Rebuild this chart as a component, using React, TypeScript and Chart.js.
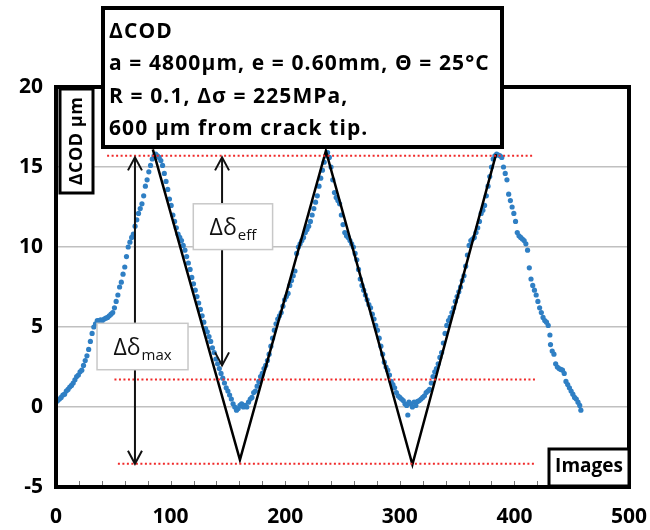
import React, { useEffect, useRef } from "react";
import { Chart, registerables } from "chart.js";

Chart.register(...registerables);

// ---- data ----
const imageIdx = [
  0, 1.5, 3, 4.5, 6, 7.5, 9, 10.5, 12, 13.5, 15, 16.5, 18, 19.5, 21, 22.5, 24, 25.5, 27, 28.5,
  30, 31.5, 33, 34.5, 36, 37.5, 39, 40.5, 42, 43.5, 45, 46.5, 48, 49.5, 51, 52.5, 54, 55.5, 57, 58.5,
  60, 61.5, 63, 64.5, 66, 67.5, 69, 70.5, 72, 73.5, 75, 76.5, 78, 79.5, 81, 82.5, 84, 85.5, 87, 88.5,
  90, 91.5, 93, 94.5, 96, 97.5, 99, 100.5, 102, 103.5, 105, 106.5, 108, 109.5, 111, 112.5, 114, 115.5, 117, 118.5,
  120, 121.5, 123, 124.5, 126, 127.5, 129, 130.5, 132, 133.5, 135, 136.5, 138, 139.5, 141, 142.5, 144, 145.5, 147, 148.5,
  150, 151.5, 153, 154.5, 156, 157.5, 159, 160.5, 162, 163.5, 165, 166.5, 168, 169.5, 171, 172.5, 174, 175.5, 177, 178.5,
  180, 181.5, 183, 184.5, 186, 187.5, 189, 190.5, 192, 193.5, 195, 196.5, 198, 199.5, 201, 202.5, 204, 205.5, 207, 208.5,
  210, 211.5, 213, 214.5, 216, 217.5, 219, 220.5, 222, 223.5, 225, 226.5, 228, 229.5, 231, 232.5, 234, 235.5, 237, 238.5,
  240, 241.5, 243, 244.5, 246, 247.5, 249, 250.5, 252, 253.5, 255, 256.5, 258, 259.5, 261, 262.5, 264, 265.5, 267, 268.5,
  270, 271.5, 273, 274.5, 276, 277.5, 279, 280.5, 282, 283.5, 285, 286.5, 288, 289.5, 291, 292.5, 294, 295.5, 297, 298.5,
  300, 301.5, 303, 304.5, 306, 307, 308, 309.5, 311, 312.5, 314, 315.5, 317, 318.5, 320, 321.5, 323, 324.5, 326, 327.5,
  329, 330.5, 332, 333.5, 335, 336.5, 338, 339.5, 341, 342.5, 344, 345.5, 347, 348.5, 350, 351.5, 353, 354.5, 356, 357.5,
  359, 360.5, 362, 363.5, 365, 366.5, 368, 369.5, 371, 372.5, 374, 375.5, 377, 378.5, 380, 381.5, 383, 384.5, 386, 387.5,
  389, 390.5, 392, 393.5, 395, 396.5, 398, 399.5, 401, 402.5, 404, 405.5, 407, 408.5, 410, 411.5, 413, 414.5, 416, 417.5,
  419, 420.5, 422, 423.5, 425, 426.5, 428, 429.5, 431, 431.5, 433, 434.5, 436, 437.5, 439, 440.5, 442, 443.5, 445, 446.5,
  448, 449.5, 451, 452.5, 454, 455.5, 457, 458,
];
const codUm = [
  0.3, 0.4, 0.5, 0.6, 0.75, 0.8, 1.0, 1.1, 1.25, 1.35, 1.5, 1.7, 1.9, 2.0, 2.2, 2.3, 2.6, 2.9, 3.2, 3.6,
  4.1, 4.6, 5.0, 5.2, 5.4, 5.4, 5.45, 5.4, 5.5, 5.55, 5.6, 5.7, 5.8, 5.9, 6.2, 6.6, 7.0, 7.5, 7.8, 8.3,
  8.75, 9.4, 10.0, 10.3, 10.6, 10.8, 11.3, 11.7, 12.1, 12.4, 12.7, 13.2, 13.8, 14.2, 14.7, 15.1, 15.5, 15.7, 15.8, 15.7,
  15.6, 15.4, 15.1, 14.6, 14.1, 13.6, 13.0, 12.6, 12.0, 11.6, 11.2, 10.8, 10.6, 10.4, 10.1, 9.8, 9.4, 9.0, 8.6, 8.1,
  7.7, 7.3, 6.9, 6.5, 6.1, 5.7, 5.3, 4.9, 4.7, 4.4, 4.1, 3.7, 3.4, 3.0, 2.7, 2.4, 2.1, 1.8, 1.5, 1.2,
  1.0, 0.75, 0.5, 0.2, 0.0, -0.2, -0.1, 0.1, 0.2, 0.0, 0.1, 0.0, 0.3, 0.5, 0.6, 0.9, 1.0, 1.3, 1.6, 1.9,
  2.1, 2.4, 2.6, 2.9, 3.3, 3.8, 4.3, 4.8, 5.2, 5.5, 5.7, 5.9, 6.3, 6.7, 6.9, 7.1, 7.6, 7.9, 8.2, 8.5,
  9.6, 10.0, 10.2, 10.4, 10.6, 10.9, 11.1, 11.3, 11.6, 12.0, 12.4, 12.8, 13.2, 13.8, 14.3, 14.8, 15.3, 15.7, 15.9, 15.6,
  15.0, 14.2, 13.4, 13.1, 12.9, 12.7, 12.0, 11.4, 10.9, 10.7, 10.6, 10.4, 10.2, 10.0, 9.6, 9.2, 8.6, 8.0, 7.6, 7.3,
  7.0, 6.7, 6.4, 6.2, 5.8, 5.5, 5.1, 4.8, 4.3, 3.8, 3.3, 2.8, 2.5, 2.3, 2.0, 1.6, 1.4, 1.2, 0.9, 0.7,
  0.6, 0.5, 0.4, 0.2, 0.1, -0.5, 0.3, 0.2, 0.0, 0.3, 0.1, 0.35, 0.4, 0.5, 0.6, 0.7, 0.9, 1.0, 1.1, 1.5,
  1.9, 2.2, 2.4, 2.7, 3.1, 3.4, 4.0, 4.6, 5.1, 5.4, 5.6, 5.9, 6.2, 6.6, 6.9, 7.2, 7.5, 7.9, 8.2, 8.8,
  9.5, 10.1, 10.4, 10.5, 10.6, 10.9, 11.2, 11.6, 12.1, 12.3, 12.6, 13.2, 13.8, 14.4, 15.0, 15.5, 15.7, 15.8, 15.75, 15.7,
  15.6, 15.0, 14.6, 14.2, 13.3, 12.9, 12.5, 12.1, 11.6, 10.9, 10.7, 10.6, 10.5, 10.4, 10.2, 9.8, 8.7, 8.0, 7.6, 7.3,
  7.0, 6.6, 6.2, 5.9, 5.6, 5.4, 5.3, 5.1, 4.5, 3.9, 3.5, 3.3, 2.7, 2.5, 2.4, 2.35, 2.3, 2.1, 1.6, 1.4,
  1.2, 1.0, 0.8, 0.6, 0.5, 0.3, 0.1, -0.2,
];

// triangular fit (black line)
const fitImages = [84.5, 160.5, 235.5, 311, 384];
const fitCod = [16.1, -3.3, 16.0, -3.6, 15.8];

// red dotted reference levels
const maxLevelImages = [44.6, 416];
const maxLevelCod = [15.7, 15.7];
const openLevelImages = [51, 420];
const openLevelCod = [1.72, 1.72];
const minLevelImages = [54, 419];
const minLevelCod = [-3.55, -3.55];

// double arrows: [image, top COD, bottom COD]
const arrowMax = [68.9, 15.6, -3.55];
const arrowEff = [144.9, 15.6, 2.6];
// label boxes: [image left, image right, COD top, COD bottom]
const boxMax = [35.8, 115.2, 5.23, 2.33];
const boxEff = [119.8, 189, 12.7, 9.84];

const xTickValues = [0, 100, 200, 300, 400, 500];
const yTickValues = [-5, 0, 5, 10, 15, 20];

const infoLines = [
  "ΔCOD",
  "a = 4800µm, e = 0.60mm, Θ = 25°C",
  "R = 0.1, Δσ = 225MPa,",
  "600 µm from crack tip.",
];
const yTitle = "ΔCOD µm";
const xTitle = "Images";

const FONT = "'Open Sans', Lato, sans-serif";
const BLUE = "#2f7fc4";
const RED = "#f02a2a";

function pts(xs: number[], ys: number[]) {
  return xs.map((x, i) => ({ x, y: ys[i] }));
}

const overlayPlugin = {
  id: "overlay",
  afterDatasetsDraw(chart: any) {
    const ctx: any = chart.ctx;
    const xs = chart.scales.x;
    const ys = chart.scales.y;
    const area = chart.chartArea;
    ctx.save();

    // arrows
    const drawHead = (x: number, y: number, dir: number) => {
      ctx.beginPath();
      ctx.moveTo(x - 7, y + dir * 13);
      ctx.lineTo(x, y);
      ctx.lineTo(x + 7, y + dir * 13);
      ctx.stroke();
    };
    ctx.strokeStyle = "#111";
    ctx.lineWidth = 2;
    for (const a of [arrowMax, arrowEff]) {
      const px = xs.getPixelForValue(a[0]);
      const t = ys.getPixelForValue(a[1]);
      const b = ys.getPixelForValue(a[2]);
      ctx.beginPath();
      ctx.moveTo(px, t);
      ctx.lineTo(px, b);
      ctx.stroke();
      drawHead(px, t, 1);
      drawHead(px, b, -1);
    }

    // label boxes
    const labelBox = (bx: number[], sub: string) => {
      const l = xs.getPixelForValue(bx[0]);
      const r = xs.getPixelForValue(bx[1]);
      const t = ys.getPixelForValue(bx[2]);
      const b = ys.getPixelForValue(bx[3]);
      ctx.fillStyle = "#fff";
      ctx.fillRect(l, t, r - l, b - t);
      ctx.strokeStyle = "#c8c8c8";
      ctx.lineWidth = 1.5;
      ctx.strokeRect(l, t, r - l, b - t);
      ctx.fillStyle = "#111";
      ctx.font = `23px ${FONT}`;
      const main = "Δδ";
      const wMain = ctx.measureText(main).width;
      ctx.font = `15px ${FONT}`;
      const wSub = ctx.measureText(sub).width;
      const startX = (l + r) / 2 - (wMain + 1 + wSub) / 2;
      const base = (t + b) / 2 + 8;
      ctx.textBaseline = "alphabetic";
      ctx.textAlign = "left";
      ctx.font = `23px ${FONT}`;
      ctx.fillText(main, startX, base);
      ctx.font = `15px ${FONT}`;
      ctx.fillText(sub, startX + wMain + 1, base + 5);
    };
    labelBox(boxMax, "max");
    labelBox(boxEff, "eff");

    // minor ticks along the bottom
    ctx.strokeStyle = "#777";
    ctx.lineWidth = 1;
    for (let v = 20; v < 500; v += 20) {
      const px = Math.round(xs.getPixelForValue(v)) + 0.5;
      ctx.beginPath();
      ctx.moveTo(px, area.bottom);
      ctx.lineTo(px, area.bottom - 6);
      ctx.stroke();
    }

    // plot border
    ctx.strokeStyle = "#000";
    ctx.lineWidth = 4;
    ctx.strokeRect(area.left, area.top, area.right - area.left, area.bottom - area.top);

    // info box
    ctx.fillStyle = "#fff";
    ctx.fillRect(103, 8, 399, 139);
    ctx.lineWidth = 4;
    ctx.strokeRect(103, 8, 399, 139);
    ctx.fillStyle = "#000";
    ctx.font = `bold 21px ${FONT}`;
    ctx.letterSpacing = "1.1px";
    ctx.textAlign = "left";
    ctx.textBaseline = "alphabetic";
    const baselines = [38, 70, 103, 135];
    infoLines.forEach((s, i) => ctx.fillText(s, 109, baselines[i]));
    ctx.letterSpacing = "0px";

    // y title box
    ctx.fillStyle = "#fff";
    ctx.fillRect(60, 89, 33, 104);
    ctx.lineWidth = 3;
    ctx.strokeRect(60, 89, 33, 104);
    ctx.save();
    ctx.translate(77, 141);
    ctx.rotate(-Math.PI / 2);
    ctx.fillStyle = "#000";
    ctx.font = `bold 18px ${FONT}`;
    ctx.letterSpacing = "0.5px";
    ctx.textAlign = "center";
    ctx.textBaseline = "middle";
    ctx.fillText(yTitle, 0, 0);
    ctx.restore();
    ctx.letterSpacing = "0px";

    // x title box
    ctx.fillStyle = "#fff";
    ctx.fillRect(549, 449, 80, 37);
    ctx.lineWidth = 3;
    ctx.strokeRect(549, 449, 80, 37);
    ctx.fillStyle = "#000";
    ctx.font = `bold 19px ${FONT}`;
    ctx.textAlign = "center";
    ctx.textBaseline = "middle";
    ctx.fillText(xTitle, 589, 467);

    ctx.restore();
  },
};

export default function App() {
  const ref = useRef<HTMLCanvasElement | null>(null);
  useEffect(() => {
    if (!ref.current) return;
    const chart = new Chart(ref.current, {
      type: "scatter",
      data: {
        datasets: [
          {
            label: "ΔCOD",
            data: pts(imageIdx, codUm),
            pointRadius: 2.6,
            pointBackgroundColor: BLUE,
            pointBorderWidth: 0,
            order: 3,
          },
          {
            label: "fit",
            data: pts(fitImages, fitCod),
            showLine: true,
            borderColor: "#000",
            borderWidth: 2.5,
            pointRadius: 0,
            order: 2,
          },
          {
            label: "max",
            data: pts(maxLevelImages, maxLevelCod),
            showLine: true,
            borderColor: RED,
            borderWidth: 2,
            borderDash: [2, 2.5],
            pointRadius: 0,
            order: 1,
            clip: false,
          },
          {
            label: "open",
            data: pts(openLevelImages, openLevelCod),
            showLine: true,
            borderColor: RED,
            borderWidth: 2,
            borderDash: [2, 2.5],
            pointRadius: 0,
            order: 1,
          },
          {
            label: "min",
            data: pts(minLevelImages, minLevelCod),
            showLine: true,
            borderColor: RED,
            borderWidth: 2,
            borderDash: [2, 2.5],
            pointRadius: 0,
            order: 1,
          },
        ],
      } as any,
      options: {
        animation: false,
        responsive: false,
        devicePixelRatio: 1,
        layout: { padding: { top: 87, right: 21, left: 0, bottom: 0 } },
        plugins: { legend: { display: false }, tooltip: { enabled: false } },
        scales: {
          x: {
            type: "linear",
            min: 0,
            max: 500,
            afterBuildTicks: (s: any) => {
              s.ticks = xTickValues.map((v) => ({ value: v }));
            },
            afterFit: (s: any) => {
              s.height = 43;
              s.paddingLeft = 0;
              s.paddingRight = 0;
            },
            ticks: {
              color: "#000",
              font: { family: FONT, size: 21, weight: "bold" },
              padding: 9,
              maxRotation: 0,
            },
            grid: { display: false },
            border: { display: false },
          },
          y: {
            type: "linear",
            min: -5,
            max: 20,
            afterBuildTicks: (s: any) => {
              s.ticks = yTickValues.map((v) => ({ value: v }));
            },
            afterFit: (s: any) => {
              s.width = 56;
              s.paddingTop = 0;
              s.paddingBottom = 0;
            },
            ticks: {
              color: "#000",
              font: { family: FONT, size: 21, weight: "bold" },
              padding: 13,
            },
            grid: {
              drawTicks: false,
              lineWidth: 1.5,
              color: (c: any) =>
                c.tick && (c.tick.value === 20 || c.tick.value === -5) ? "rgba(0,0,0,0)" : "#c0c0c0",
            },
            border: { display: false },
          },
        },
      } as any,
      plugins: [overlayPlugin],
    });
    return () => chart.destroy();
  }, []);
  return (
    <div style={{ position: "absolute", left: 0, top: 0, width: 650, height: 530, background: "#fff" }}>
      <canvas ref={ref} width={650} height={530} />
    </div>
  );
}
